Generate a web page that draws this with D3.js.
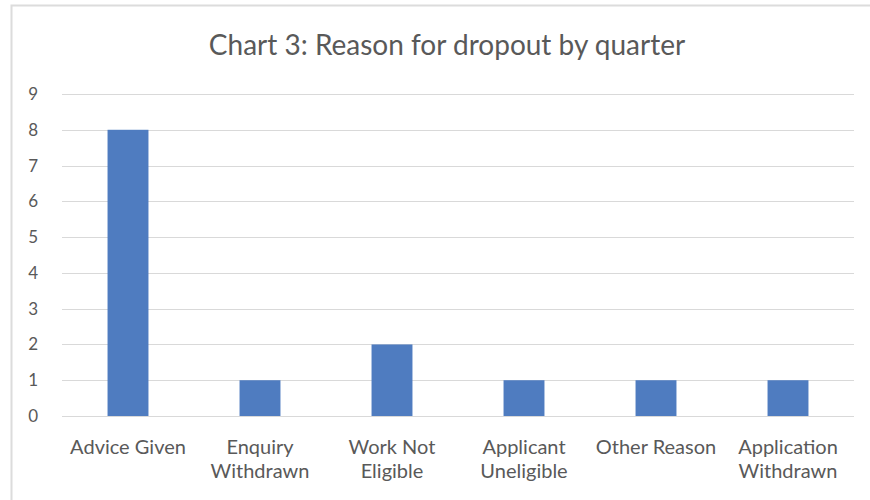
<!DOCTYPE html>
<html>
<head>
<meta charset="utf-8">
<script src="https://cdn.jsdelivr.net/npm/d3@7"></script>
<style>
  html, body { margin: 0; padding: 0; background: #fff; }
  svg { display: block; }
</style>
</head>
<body>
<svg id="chart" width="870" height="500"></svg>
<script>
const title = "Chart 3: Reason for dropout by quarter";
const categories = [
  ["Advice Given"],
  ["Enquiry", "Withdrawn"],
  ["Work Not", "Eligible"],
  ["Applicant", "Uneligible"],
  ["Other Reason"],
  ["Application", "Withdrawn"]
];
const values = [8, 1, 2, 1, 1, 1];
const yTicks = [0, 1, 2, 3, 4, 5, 6, 7, 8, 9];

const svg = d3.select("#chart");
const W = 870, H = 500;
const m = { left: 62, right: 16, top: 94, bottom: 84 };
const font = "Lato, 'Open Sans', sans-serif";

// outer chart border
svg.append("rect")
  .attr("x", 11.5).attr("y", 5.5)
  .attr("width", W + 10).attr("height", H + 10)
  .attr("fill", "none").attr("stroke", "#dcdcdc").attr("stroke-width", 2);

const x = d3.scaleBand()
  .domain(d3.range(categories.length))
  .range([m.left, W - m.right])
  .paddingInner(0.69).paddingOuter(0.345);

const y = d3.scaleLinear().domain([0, 9]).range([H - m.bottom, m.top]);

// gridlines
const grid = svg.append("g");
grid.selectAll("line").data(yTicks).join("line")
  .attr("x1", m.left).attr("x2", W - m.right)
  .attr("y1", d => Math.round(y(d)) + 0.5).attr("y2", d => Math.round(y(d)) + 0.5)
  .attr("stroke", "#d9d9d9").attr("stroke-width", 1);

// y axis labels
const yAxis = d3.axisLeft(y).tickValues(yTicks).tickSize(0).tickPadding(0);
const ya = svg.append("g").attr("transform", `translate(38,0)`).call(yAxis);
ya.select(".domain").remove();
ya.selectAll("text").attr("font-family", font).attr("font-size", 17).attr("fill", "#595959");

// bars
svg.append("g").selectAll("rect").data(values).join("rect")
  .attr("x", (d, i) => x(i))
  .attr("width", x.bandwidth())
  .attr("y", d => y(d))
  .attr("height", d => y(0) - y(d))
  .attr("fill", "#4f7cc0");

// x labels
const xl = svg.append("g");
categories.forEach((lines, i) => {
  const t = xl.append("text")
    .attr("x", x(i) + x.bandwidth() / 2)
    .attr("y", 454)
    .attr("text-anchor", "middle")
    .attr("font-family", font).attr("font-size", 20).attr("fill", "#595959");
  lines.forEach((ln, j) => {
    t.append("tspan").attr("x", x(i) + x.bandwidth() / 2).attr("dy", j === 0 ? 0 : 24).text(ln);
  });
});

// title
svg.append("text")
  .attr("x", 447).attr("y", 55)
  .attr("text-anchor", "middle")
  .attr("font-family", font).attr("font-size", 28).attr("fill", "#595959")
  .text(title);
</script>
</body>
</html>
